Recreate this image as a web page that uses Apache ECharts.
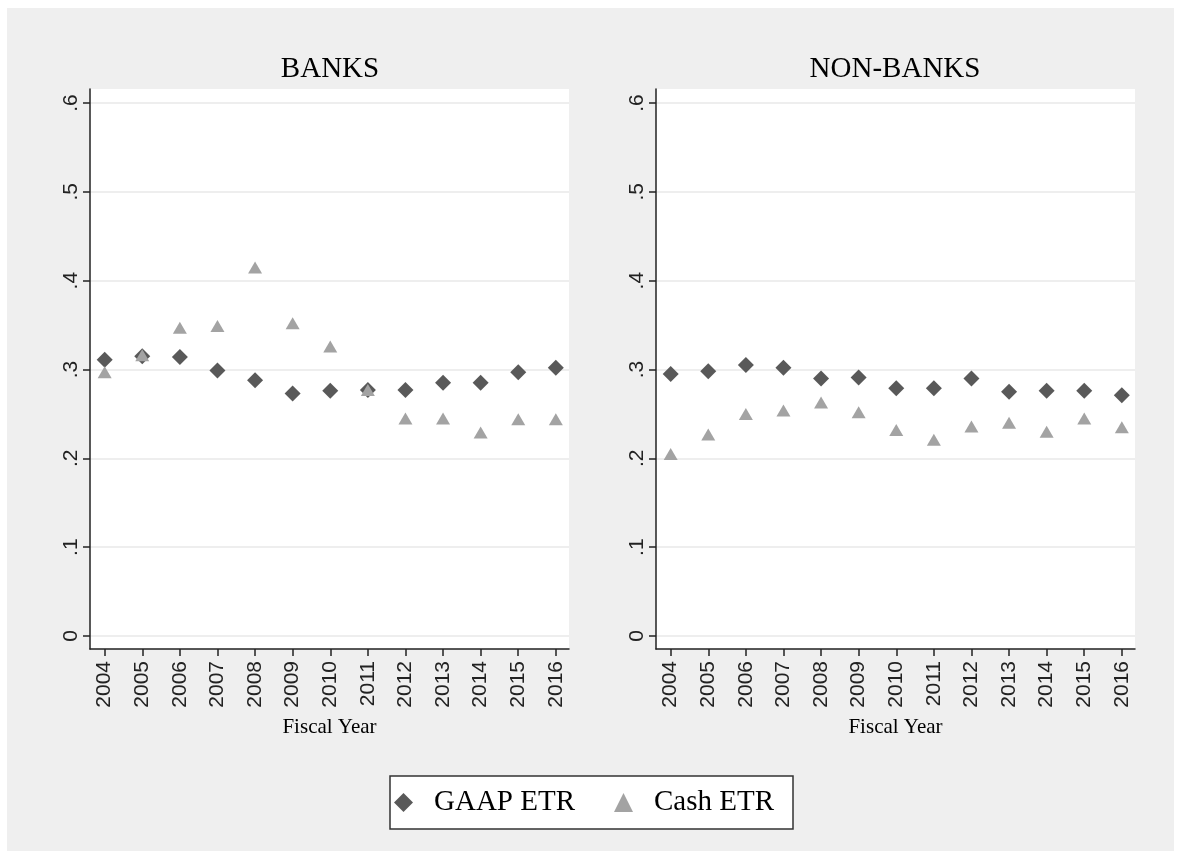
<!DOCTYPE html>
<html>
<head>
<meta charset="utf-8">
<script src="https://cdn.jsdelivr.net/npm/echarts@6/dist/echarts.min.js"></script>
<style>
  html, body { margin: 0; padding: 0; background: #fff; }
  #main { width: 1181px; height: 856px; }
</style>
</head>
<body>
<div id="main"></div>
<script>
var years = [2004, 2005, 2006, 2007, 2008, 2009, 2010, 2011, 2012, 2013, 2014, 2015, 2016];
var yTicks = [0, 0.1, 0.2, 0.3, 0.4, 0.5, 0.6];

var banksGaap = [0.311, 0.315, 0.314, 0.299, 0.288, 0.273, 0.276, 0.277, 0.277, 0.285, 0.285, 0.297, 0.302];
var banksCash = [0.297, 0.316, 0.347, 0.349, 0.415, 0.352, 0.326, 0.277, 0.245, 0.245, 0.229, 0.244, 0.244];
var nonBanksGaap = [0.295, 0.298, 0.305, 0.302, 0.290, 0.291, 0.279, 0.279, 0.290, 0.275, 0.276, 0.276, 0.271];
var nonBanksCash = [0.205, 0.227, 0.250, 0.254, 0.263, 0.252, 0.232, 0.221, 0.236, 0.240, 0.230, 0.245, 0.235];

var gaapColor = '#595959';
var cashColor = '#a3a3a3';
var serif = '"Liberation Serif", "Times New Roman", serif';
var sans = '"Liberation Sans", Arial, sans-serif';

function pairs(vals) {
    var out = [];
    for (var i = 0; i < years.length; i++) {
        out.push([years[i], vals[i]]);
    }
    return out;
}

function xAxis(idx) {
    return {
        gridIndex: idx,
        type: 'value',
        min: 2003.61,
        max: 2016.35,
        name: 'Fiscal Year',
        nameLocation: 'middle',
        nameGap: 68,
        nameTextStyle: { fontFamily: serif, fontSize: 21, color: '#000' },
        axisLine: { show: true, onZero: false, lineStyle: { color: '#222', width: 1.5 } },
        axisTick: { show: true, length: 7, customValues: years, lineStyle: { color: '#222', width: 1.5 } },
        axisLabel: {
            customValues: years,
            rotate: 90,
            margin: 12,
            fontFamily: sans,
            fontSize: 21,
            color: '#222',
            formatter: function (v) { return String(v); }
        },
        splitLine: { show: false }
    };
}

function yAxis(idx) {
    return {
        gridIndex: idx,
        type: 'value',
        min: -0.0146,
        max: 0.6158,
        axisLine: { show: true, lineStyle: { color: '#222', width: 1.5 } },
        axisTick: { show: true, length: 7, customValues: yTicks, lineStyle: { color: '#222', width: 1.5 } },
        axisLabel: {
            customValues: yTicks,
            rotate: 90,
            margin: 8,
            fontFamily: sans,
            fontSize: 21,
            color: '#222',
            formatter: function (v) {
                if (v === 0) return '0';
                return String(v).replace('0.', '.');
            }
        },
        splitLine: { show: true, lineStyle: { color: '#e8e8e8', width: 1.5 } }
    };
}

function gaapSeries(idx, vals) {
    return {
        name: 'GAAP ETR',
        type: 'scatter',
        xAxisIndex: idx,
        yAxisIndex: idx,
        symbol: 'diamond',
        symbolSize: 16,
        itemStyle: { color: gaapColor, opacity: 1 },
        data: pairs(vals),
        z: 2
    };
}

function cashSeries(idx, vals) {
    return {
        name: 'Cash ETR',
        type: 'scatter',
        xAxisIndex: idx,
        yAxisIndex: idx,
        symbol: 'triangle',
        symbolSize: [14, 12],
        itemStyle: { color: cashColor, opacity: 1 },
        data: pairs(vals),
        z: 3
    };
}

var myChart = echarts.init(document.getElementById('main'));
var option = {
    animation: false,
    backgroundColor: '#fff',
    graphic: [
        {
            type: 'rect',
            shape: { x: 7, y: 8, width: 1167, height: 843 },
            style: { fill: '#efefef' },
            z: -10,
            silent: true
        }
    ],
    title: [
        { text: 'BANKS', left: 325, top: 50, textAlign: 'center',
          textStyle: { fontFamily: serif, fontSize: 29, fontWeight: 'normal', color: '#000' } },
        { text: 'NON-BANKS', left: 890, top: 50, textAlign: 'center',
          textStyle: { fontFamily: serif, fontSize: 29, fontWeight: 'normal', color: '#000' } }
    ],
    legend: {
        left: 390,
        top: 776,
        orient: 'horizontal',
        backgroundColor: '#fff',
        borderColor: '#333',
        borderWidth: 1.5,
        borderRadius: 0,
        padding: [12, 19, 12, 4],
        itemGap: 39,
        itemWidth: 19,
        itemHeight: 19,
        textStyle: { fontFamily: serif, fontSize: 29, color: '#000', padding: [0, 0, 0, 16] },
        data: [
            { name: 'GAAP ETR', icon: 'diamond' },
            { name: 'Cash ETR', icon: 'triangle' }
        ]
    },
    grid: [
        { left: 90, top: 89, width: 479, height: 560, show: true, backgroundColor: '#fff', borderWidth: 0 },
        { left: 656, top: 89, width: 479, height: 560, show: true, backgroundColor: '#fff', borderWidth: 0 }
    ],
    xAxis: [xAxis(0), xAxis(1)],
    yAxis: [yAxis(0), yAxis(1)],
    series: [
        gaapSeries(0, banksGaap),
        cashSeries(0, banksCash),
        gaapSeries(1, nonBanksGaap),
        cashSeries(1, nonBanksCash)
    ]
};
myChart.setOption(option);
</script>
</body>
</html>
